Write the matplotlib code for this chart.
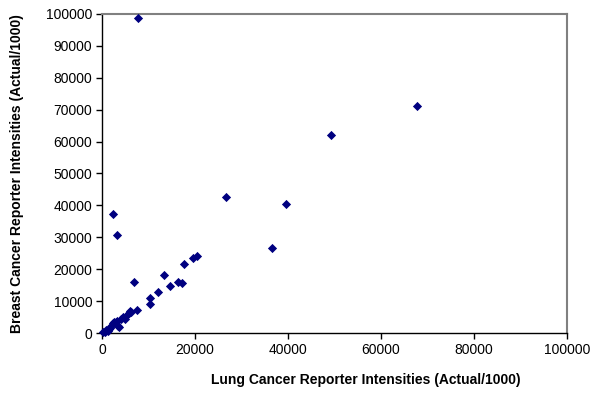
import matplotlib
matplotlib.use("Agg")
import matplotlib.pyplot as plt
from matplotlib.ticker import MultipleLocator

plt.rcParams['font.family'] = ['Liberation Sans', 'DejaVu Sans']

lung = [7800, 67700, 49300, 26700, 39600, 36600, 2300, 3200, 6900, 10400, 10400,
        12100, 13300, 14700, 16300, 17300, 17600, 19600, 20500, 7600, 6000,
        3700, 200, 600, 900, 1200, 1400, 1700, 2000, 2300, 2500, 2900, 3200,
        3500, 4100, 4600, 5000, 5300, 5700, 6300]
breast = [98600, 71300, 62200, 42600, 40400, 26500, 37400, 30600, 15900, 11000, 9100,
          12800, 18100, 14800, 16000, 15600, 21500, 23600, 24000, 7100, 7000,
          2000, 200, 300, 800, 500, 1200, 1600, 2300, 3000, 3600, 3300, 3900,
          2300, 4500, 5100, 4400, 5600, 6200, 6500]

fig = plt.figure(figsize=(5.97, 3.94), dpi=100)
ax = fig.add_axes([0.1709, 0.1548, 0.9497 - 0.1709, 0.9645 - 0.1548])

ax.scatter(lung, breast, marker='D', s=22, color='#000080', linewidths=0,
           clip_on=False, zorder=3)

ax.set_xlim(0, 100000)
ax.set_ylim(0, 100000)
ax.xaxis.set_major_locator(MultipleLocator(20000))
ax.yaxis.set_major_locator(MultipleLocator(10000))

for s in ['top', 'right']:
    ax.spines[s].set_color('#808080')
    ax.spines[s].set_linewidth(1.5)
for s in ['left', 'bottom']:
    ax.spines[s].set_color('black')
    ax.spines[s].set_linewidth(1.0)

ax.tick_params(direction='out', length=4, width=1, labelsize=10, colors='black',
               pad=3)

ax.set_xlabel('Lung Cancer Reporter Intensities (Actual/1000)', fontsize=10,
              fontweight='bold', labelpad=12)
ax.xaxis.set_label_coords(0.568, -0.125)
ax.set_ylabel('Breast Cancer Reporter Intensities (Actual/1000)', fontsize=10,
              fontweight='bold', labelpad=16)

fig.savefig('out.png', dpi=100)
